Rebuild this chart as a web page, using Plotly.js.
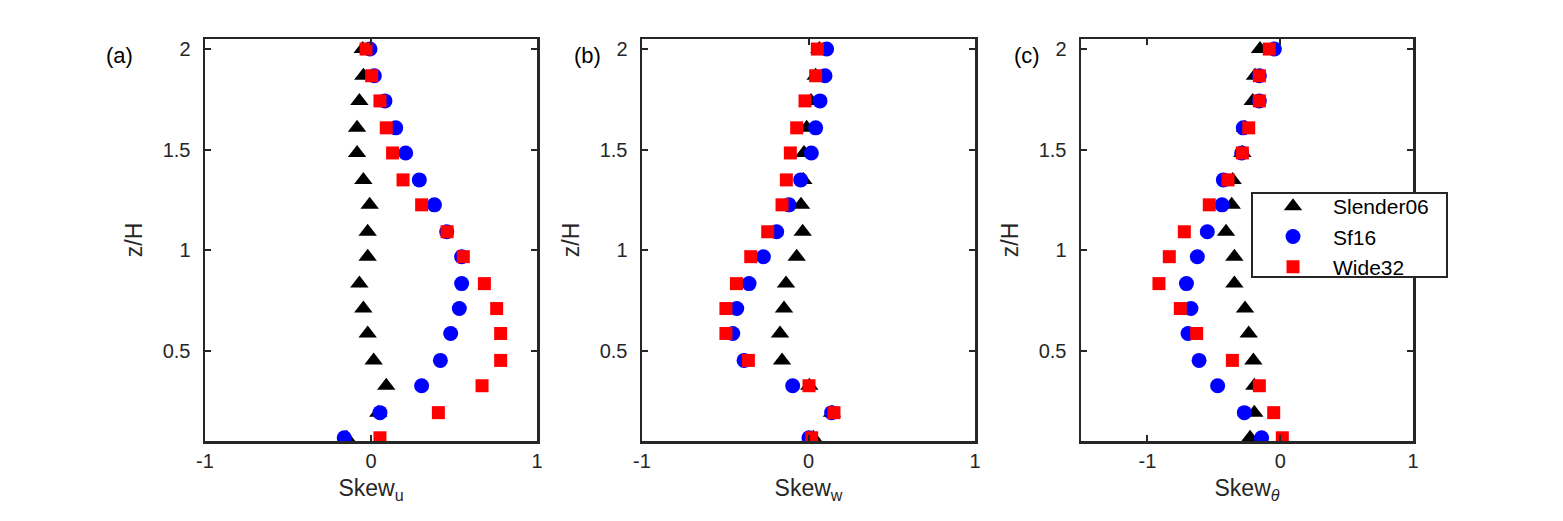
<!DOCTYPE html>
<html>
<head>
<meta charset="utf-8">
<script src="https://cdn.plot.ly/plotly-3.0.1.min.js"></script>
<style>html,body{margin:0;padding:0;background:#fff;}#chart{width:1563px;height:521px;}</style>
</head>
<body>
<div id="chart"></div>
<script>
// heights (z/H) shared by all panels
const zH = [2.0, 1.867, 1.742, 1.608, 1.483, 1.349, 1.225, 1.091, 0.967, 0.833, 0.709, 0.585, 0.451, 0.325, 0.191, 0.066];

// (a) Skew_u
const skewU_Slender06 = [-0.05, -0.046, -0.07, -0.084, -0.084, -0.046, -0.008, -0.02, -0.02, -0.07, -0.046, -0.02, 0.016, 0.092, 0.044, -0.147];
const skewU_Sf16      = [-0.006, 0.02, 0.084, 0.149, 0.209, 0.291, 0.382, 0.456, 0.546, 0.546, 0.532, 0.48, 0.418, 0.305, 0.054, -0.161];
const skewU_Wide32    = [-0.03, 0.004, 0.054, 0.092, 0.13, 0.193, 0.305, 0.458, 0.556, 0.683, 0.757, 0.781, 0.781, 0.669, 0.406, 0.054];

// (b) Skew_w
const skewW_Slender06 = [0.065, 0.043, 0.015, -0.011, -0.027, -0.031, -0.045, -0.035, -0.071, -0.135, -0.147, -0.171, -0.159, 0.005, 0.141, 0.029];
const skewW_Sf16      = [0.109, 0.099, 0.069, 0.043, 0.017, -0.047, -0.117, -0.191, -0.271, -0.357, -0.431, -0.455, -0.387, -0.095, 0.139, 0.003];
const skewW_Wide32    = [0.053, 0.043, -0.021, -0.071, -0.109, -0.133, -0.159, -0.245, -0.347, -0.433, -0.496, -0.496, -0.361, 0.003, 0.153, 0.019];

// (c) Skew_theta
const skewT_Slender06 = [-0.152, -0.19, -0.207, -0.265, -0.285, -0.358, -0.365, -0.408, -0.345, -0.345, -0.265, -0.237, -0.202, -0.195, -0.195, -0.227];
const skewT_Sf16      = [-0.044, -0.157, -0.157, -0.278, -0.29, -0.428, -0.438, -0.549, -0.624, -0.706, -0.672, -0.694, -0.611, -0.471, -0.27, -0.14];
const skewT_Wide32    = [-0.082, -0.157, -0.157, -0.237, -0.285, -0.393, -0.534, -0.722, -0.835, -0.913, -0.752, -0.629, -0.36, -0.157, -0.049, 0.016];

const seriesNames = ['Slender06', 'Sf16', 'Wide32'];
const panelLabels = ['(a)', '(b)', '(c)'];
const xTitles = ['Skew<sub>u</sub>', 'Skew<sub>w</sub>', 'Skew<sub><i>θ</i></sub>'];
const yTitle = 'z/H';
const xTickVals = [-1, 0, 1];
const xTickText = ['-1', '0', '1'];
const yTickVals = [0.5, 1, 1.5, 2];
const yTickText = ['0.5', '1', '1.5', '2'];

const styles = [
  {symbol: 'triangle-up', color: '#000000', size: 16},
  {symbol: 'circle', color: '#0000ff', size: 15},
  {symbol: 'square', color: '#ff0000', size: 13}
];
const panels = [
  [skewU_Slender06, skewU_Sf16, skewU_Wide32],
  [skewW_Slender06, skewW_Sf16, skewW_Wide32],
  [skewT_Slender06, skewT_Sf16, skewT_Wide32]
];

const traces = [];
panels.forEach((p, pi) => {
  p.forEach((xs, si) => {
    traces.push({
      x: xs, y: zH, type: 'scatter', mode: 'markers',
      name: seriesNames[si],
      xaxis: pi === 0 ? 'x' : 'x' + (pi + 1),
      yaxis: pi === 0 ? 'y' : 'y' + (pi + 1),
      showlegend: pi === 2,
      marker: {symbol: styles[si].symbol, color: styles[si].color, size: styles[si].size, line: {width: 0}}
    });
  });
});

const W = 1563, H = 521;
const font = 'Liberation Sans, Arial, Helvetica, sans-serif';
const ink = '#262626';
const xDomains = [[205 / W, 537 / W], [642 / W, 975 / W], [1081 / W, 1413 / W]];
const yDomain = [80 / H, 482 / H];
const xRanges = [[-1, 1], [-1, 1], [-1.5, 1]];

function xAxis(i) {
  return {
    domain: xDomains[i], range: xRanges[i], anchor: i === 0 ? 'y' : 'y' + (i + 1),
    tickvals: xTickVals, ticktext: xTickText,
    ticks: 'inside', ticklen: 6, tickwidth: 2, tickcolor: ink,
    showline: true, mirror: 'ticks', linecolor: ink, linewidth: 2.5,
    showgrid: false, zeroline: false,
    tickfont: {family: font, size: 20, color: ink},
    title: {text: xTitles[i], font: {family: font, size: 23, color: ink}, standoff: 10},
    automargin: false
  };
}
function yAxis(i) {
  return {
    domain: yDomain, range: [0.05, 2.05], anchor: i === 0 ? 'x' : 'x' + (i + 1),
    tickvals: yTickVals, ticktext: yTickText,
    ticks: 'inside', ticklen: 6, tickwidth: 2, tickcolor: ink,
    showline: true, mirror: 'ticks', linecolor: ink, linewidth: 2.5,
    showgrid: false, zeroline: false,
    tickfont: {family: font, size: 20, color: ink},
    ticklabelstandoff: 8,
    title: {text: yTitle, font: {family: font, size: 23, color: ink}, standoff: 14},
    automargin: false
  };
}

const layout = {
  width: W, height: H,
  margin: {l: 0, r: 0, t: 0, b: 0},
  paper_bgcolor: '#ffffff', plot_bgcolor: '#ffffff',
  showlegend: true,
  legend: {
    x: 1253 / W, y: 1 - 186 / H, xanchor: 'left', yanchor: 'top',
    bgcolor: 'rgba(0,0,0,0)', borderwidth: 0,
    itemwidth: 70,
    font: {family: font, size: 21, color: '#000000'},
    tracegroupgap: 0
  },
  shapes: [{
    type: 'rect', xref: 'paper', yref: 'paper', layer: 'above',
    x0: 1252 / W, x1: 1447 / W, y0: 1 - 277 / H, y1: 1 - 193 / H,
    line: {color: ink, width: 2}, fillcolor: '#ffffff'
  }],
  annotations: panelLabels.map((t, i) => ({
    text: t, xref: 'paper', yref: 'paper', showarrow: false,
    x: [119, 587, 1027][i] / W, y: 1 - 55 / H, xanchor: 'center', yanchor: 'middle',
    font: {family: font, size: 22, color: '#000000'}
  }))
};
for (let i = 0; i < 3; i++) {
  layout[i === 0 ? 'xaxis' : 'xaxis' + (i + 1)] = xAxis(i);
  layout[i === 0 ? 'yaxis' : 'yaxis' + (i + 1)] = yAxis(i);
}

Plotly.newPlot('chart', traces, layout, {displayModeBar: false, staticPlot: true});
</script>
</body>
</html>
